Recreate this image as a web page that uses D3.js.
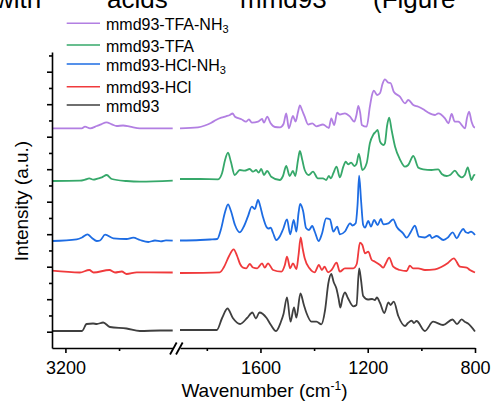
<!DOCTYPE html>
<html>
<head>
<meta charset="utf-8">
<script src="https://cdn.jsdelivr.net/npm/d3@7"></script>
<style>
  html, body { margin: 0; padding: 0; background: #fff; overflow: hidden; }
  svg { display: block; }
</style>
</head>
<body>
<svg id="chart" width="493" height="403"></svg>
<script>
// FTIR spectra of mmd93 and its acid / ammonia treated forms, stacked with offsets.
// Each point: [wavenumber (cm^-1), intensity (a.u.)]; the 2800-1900 region is cut out.

const seriesNames = ["mmd93", "mmd93-HCl", "mmd93-HCl-NH3", "mmd93-TFA", "mmd93-TFA-NH3"];
const seriesOffsets = [0.7, 60.7, 91.2, 151.7, 203.4];

const mmd93 = [
  [3250,0],[3138,0],[3121,7],[3097,7.5],[3083,7],[3059,8.5],[3034,4],[2972,2.5],[2922,0],[2847,0.5],[2800,0.5],
  [1900,1],[1763,1],[1743,13],[1723,22.5],[1703,13],[1676,7],[1650,13],[1630,18.5],[1617,12.5],[1604,18.5],
  [1577,13],[1561,6],[1542,0],[1524,9],[1514,17],[1501,33.7],[1488,9.3],[1475,23.7],[1466,13.3],[1451,37.5],
  [1438,26],[1428,17.7],[1410,9.3],[1391,9.3],[1373,6.7],[1359,21],[1347,47.5],[1336,57],[1327,49],[1317,42.7],
  [1309,33],[1302,23.5],[1294,33],[1285,38.5],[1274,33],[1254,24.7],[1242,26],[1232,62.5],[1225,51],[1217,35],
  [1199,31.5],[1184,32],[1173,31],[1166,33.5],[1154,28],[1138,18],[1123,28.7],[1115,26],[1103,29.3],[1086,15],
  [1061,5],[1050,8],[1036,10.3],[1028,8],[1018,10],[987,0],[956,9.3],[919,6],[884,11.5],[867,7],[850,11.7],
  [837,9],[826,7.5],[800,-0.5]
];

const mmd93HCl = [
  [3250,0.3],[3146,-1.5],[3111,1],[3095,-1.5],[3036,1],[3015,-1.5],[2990,-0.5],[2972,-3],[2934,-1.3],[2800,-1.5],
  [1900,-2],[1752,-1.3],[1736,4],[1717,15],[1700,21.7],[1687,15],[1676,7],[1665,3.3],[1653,2.7],[1640,7],
  [1628,3.5],[1612,2.7],[1594,7.7],[1584,3.3],[1572,7.7],[1553,1],[1522,-0.7],[1509,6],[1501,14.3],[1489,2.7],
  [1479,7.7],[1466,2],[1458,16],[1450,33.7],[1443,23],[1435,12.7],[1417,2.7],[1398,-1.3],[1382,6],[1371,1],
  [1361,4.3],[1348,-1.3],[1335,1],[1316,8.3],[1304,-0.7],[1285,2.7],[1254,2.7],[1241,7],[1229,28.3],[1220,26],
  [1210,17.7],[1198,19.3],[1185,11],[1173,9.3],[1154,6],[1142,3.3],[1132,8],[1120,13.3],[1105,4.3],[1080,1],
  [1055,0],[1043,5.3],[1031,2.7],[1012,2.7],[987,1],[949,1.7],[924,4.3],[901,8],[879,12.7],[856,4.3],[831,3.3],
  [819,1],[800,-1.5]
];

const mmd93HClNH3 = [
  [3250,-0.5],[3158,1.2],[3138,3],[3118,6.2],[3101,2.5],[3083,-0.5],[3071,0],[3052,5.8],[3021,2.2],[2972,1.5],
  [2947,2.8],[2922,0.5],[2891,-1.5],[2866,0],[2844,-0.8],[2825,0.2],[2800,-0.2],
  [1900,0],[1825,0.5],[1788,1],[1761,1.5],[1748,10.5],[1732,28.5],[1721,36.2],[1710,29.5],[1695,15.5],[1677,8.2],
  [1661,14.5],[1647,23.8],[1632,33.8],[1621,31.5],[1609,40.5],[1602,35.5],[1591,23.8],[1578,13.8],[1570,12],
  [1562,12.8],[1553,7.5],[1541,0.5],[1527,4.5],[1516,11],[1501,21.2],[1489,6.2],[1476,20.5],[1466,8.8],[1458,27.5],
  [1452,36.5],[1441,29.5],[1430,12.5],[1419,10.5],[1407,14.5],[1397,8.5],[1383,-0.5],[1371,6.5],[1355,22.2],
  [1341,21.2],[1328,8.8],[1314,13.8],[1304,6.2],[1285,9],[1266,17.2],[1257,15],[1245,17.2],[1238,35.5],[1232,64.8],
  [1225,40.5],[1217,15.5],[1210,12.8],[1198,19.5],[1188,13.8],[1176,20.5],[1163,15.5],[1151,21.5],[1142,16.2],
  [1123,17.2],[1105,21.2],[1092,13.8],[1068,7.2],[1055,2.8],[1039,8.8],[1024,14.8],[1009,3.8],[987,3],[968,5.5],
  [961,2.5],[943,4.5],[918,0.5],[901,3],[883,8.2],[868,2.2],[856,7.5],[844,11.5],[834,8.2],[825,7.5],[815,8.8],
  [800,5.5]
];

const mmd93TFA = [
  [3250,-1],[3146,-0.7],[3127,0.3],[3111,1.7],[3096,0.3],[3077,1.7],[3064,2.7],[3046,5],[3027,1],[2972,-1],
  [2922,-1.7],[2800,-0.7],
  [1900,1],[1825,1],[1758,0.7],[1743,7],[1732,20],[1721,27.3],[1710,18],[1696,5],[1677,10],[1659,9.3],[1640,11],
  [1628,8.3],[1616,10],[1607,7.3],[1597,11],[1587,5],[1575,9],[1560,3.3],[1528,0],[1516,4],[1504,14],[1491,4],
  [1479,9],[1470,4],[1460,20],[1453,29],[1444,20],[1435,10],[1420,5],[1404,8.3],[1386,1.7],[1367,1.7],[1355,0],
  [1345,4],[1337,1.7],[1328,7],[1316,13.3],[1304,2.7],[1291,13.3],[1282,18.3],[1273,15.7],[1262,17.3],[1250,14],
  [1242,16],[1233,26],[1220,10],[1204,16.7],[1192,36.7],[1179,45.5],[1171,48],[1163,50],[1154,38.3],[1142,35],
  [1136,36.7],[1128,54],[1120,62.3],[1111,50],[1098,33.3],[1080,20.7],[1061,13.3],[1049,15],[1030,24],[1011,12.3],
  [993,10.7],[962,10],[937,10.7],[924,6],[906,4],[893,5],[875,9.3],[862,5],[850,2.7],[838,5],[827,12.7],[819,5],
  [813,0],[803,5],[800,4.5]
];

const mmd93TFANH3 = [
  [3250,0],[3139,0],[3127,1.6],[3108,0],[3083,2.3],[3067,4],[3047,6],[3027,4],[3009,2.3],[2985,2.8],[2959,1.6],
  [2922,0],[2800,0],
  [1900,0],[1833,1],[1807,2.8],[1783,5.6],[1766,8.3],[1746,10.6],[1729,12],[1714,13.3],[1704,14.8],[1695,11.6],
  [1671,9],[1654,6.6],[1643,9],[1632,5.6],[1609,6.6],[1594,9.3],[1587,5.6],[1575,11.6],[1562,5],[1546,1.3],
  [1527,1],[1514,4.3],[1504,14.8],[1494,0],[1479,12.3],[1469,6.8],[1460,16.3],[1453,23],[1445,18.3],[1435,11.6],
  [1422,3.8],[1407,5],[1391,2],[1367,3.8],[1352,1.3],[1345,0.3],[1336,10],[1325,3.3],[1314,15.6],[1304,13.8],
  [1285,15],[1266,11.6],[1250,6.6],[1242,13.3],[1235,22.3],[1228,15.3],[1222,3.3],[1204,1.6],[1192,21.6],
  [1184,33.3],[1177,37.6],[1165,33.3],[1154,35.3],[1145,44.3],[1136,49],[1123,45.6],[1115,45.3],[1103,36.6],
  [1080,31.6],[1061,25],[1049,28.3],[1030,23.3],[1011,21.6],[993,19],[975,15.8],[949,13.3],[937,15],[912,10],
  [899,5],[887,14.3],[876,6.8],[862,6.6],[837,0],[830,10.3],[822,16.6],[813,6.8],[803,1],[800,0.8]
];

const seriesData = [mmd93, mmd93HCl, mmd93HClNH3, mmd93TFA, mmd93TFANH3];
const seriesColors = ["#3f3f3f", "#f03a3c", "#1d6ce3", "#36a86a", "#b27fe2"];

// axis ticks
const xHighMajor = [3200];
const xHighMinor = [3000];
const xLowMajor = [1600, 1200, 800];
const xLowMinor = [1800, 1400, 1000];
const yMajor = [0, 32.5, 65, 97.5, 130, 162.5, 195, 227.5, 260];
const yMinor = [16.25, 48.75, 81.25, 113.75, 146.25, 178.75, 211.25, 243.75, 276.25];

// legend, listed top to bottom
const legendOrder = [4, 3, 2, 1, 0];

// ---- drawing ----
const font = "'Liberation Sans', Arial, Helvetica, sans-serif";
const svg = d3.select("#chart");

const xHigh = d3.scaleLinear().domain([3250, 2800]).range([52, 172.7]);
const xLow = d3.scaleLinear().domain([1900, 800]).range([180, 475]);
const y = d3.scaleLinear().domain([-16.3, 279.7]).range([348, 52]);

// paragraph text above the figure, clipped by the top edge
const topWords = [["with", -5], ["acids", 107], ["mmd93", 240], ["(Figure", 373]];
svg.append("g").selectAll("text").data(topWords).join("text")
  .attr("x", d => d[1]).attr("y", 7.5)
  .attr("font-family", font).attr("font-size", 26).attr("fill", "#000")
  .text(d => d[0]);

// spectra
const plot = svg.append("g");
for (let i = seriesData.length - 1; i >= 0; i--) {
  const off = seriesOffsets[i];
  const high = seriesData[i].filter(d => d[0] >= 2800);
  const low = seriesData[i].filter(d => d[0] <= 1900);
  const lineHigh = d3.line().x(d => xHigh(d[0])).y(d => y(d[1] + off)).curve(d3.curveMonotoneX);
  const lineLow = d3.line().x(d => xLow(d[0])).y(d => y(d[1] + off)).curve(d3.curveMonotoneX);
  [[high, lineHigh], [low, lineLow]].forEach(([pts, gen]) => {
    plot.append("path").attr("d", gen(pts))
      .attr("fill", "none").attr("stroke", seriesColors[i])
      .attr("stroke-width", 1.8).attr("stroke-linejoin", "round");
  });
}

// axes
function styleAxis(g) {
  g.attr("font-family", font);
  g.selectAll("path.domain").attr("stroke", "#000").attr("stroke-width", 1.6);
  g.selectAll(".tick line").attr("stroke", "#000").attr("stroke-width", 1.6);
  g.selectAll(".tick text").attr("fill", "#000");
}

// y axis (unlabelled ticks)
svg.append("g").attr("transform", "translate(52,0)")
  .call(d3.axisLeft(y).tickValues(yMinor).tickSize(3).tickSizeOuter(0).tickFormat(""))
  .call(g => g.select(".domain").remove()).call(styleAxis);
svg.append("g").attr("transform", "translate(52,0)")
  .call(d3.axisLeft(y).tickValues(yMajor).tickSize(5).tickSizeOuter(0).tickFormat(""))
  .call(styleAxis);

// x axis, two segments
function xAxisSegment(scale, major, minor) {
  svg.append("g").attr("transform", "translate(0,348)")
    .call(d3.axisBottom(scale).tickValues(minor).tickSize(3).tickSizeOuter(0).tickFormat(""))
    .call(g => g.select(".domain").remove()).call(styleAxis);
  svg.append("g").attr("transform", "translate(0,348)")
    .call(d3.axisBottom(scale).tickValues(major).tickSize(5).tickSizeOuter(0).tickPadding(8).tickFormat(d3.format("d")))
    .call(styleAxis)
    .call(g => g.selectAll(".tick text").attr("font-size", 18));
}
xAxisSegment(xHigh, xHighMajor, xHighMinor);
xAxisSegment(xLow, xLowMajor, xLowMinor);

// axis break marks
const breakX = (xHigh.range()[1] + xLow.range()[0]) / 2;
svg.append("g").selectAll("line").data([-3, 3]).join("line")
  .attr("x1", d => breakX + d - 3.3).attr("y1", 354.5)
  .attr("x2", d => breakX + d + 3.3).attr("y2", 342.5)
  .attr("stroke", "#000").attr("stroke-width", 1.8);

// axis titles
const xt = svg.append("text").attr("x", 264.5).attr("y", 397)
  .attr("text-anchor", "middle").attr("font-family", font).attr("font-size", 19).attr("fill", "#000");
xt.append("tspan").text("Wavenumber (cm");
xt.append("tspan").attr("font-size", 12).attr("dy", -7).text("-1");
xt.append("tspan").attr("dy", 7).text(")");

svg.append("text").attr("transform", "translate(27.5,201) rotate(-90)")
  .attr("text-anchor", "middle").attr("font-family", font).attr("font-size", 19).attr("fill", "#000")
  .text("Intensity (a.u.)");

// legend
const legendRowY = [23.3, 45, 64, 86.7, 105];
const legend = svg.append("g");
legendOrder.forEach((si, r) => {
  const ly = legendRowY[r];
  legend.append("line").attr("x1", 66.7).attr("x2", 100).attr("y1", ly).attr("y2", ly)
    .attr("stroke", seriesColors[si]).attr("stroke-width", 1.6);
  const t = legend.append("text").attr("x", 106).attr("y", ly + 6.5)
    .attr("font-family", font).attr("font-size", 16).attr("fill", "#000");
  const name = seriesNames[si];
  if (name.endsWith("NH3")) {
    t.append("tspan").text(name.slice(0, -1));
    t.append("tspan").attr("font-size", 11).attr("dy", 3.5).text("3");
  } else {
    t.text(name);
  }
});
</script>
</body>
</html>
